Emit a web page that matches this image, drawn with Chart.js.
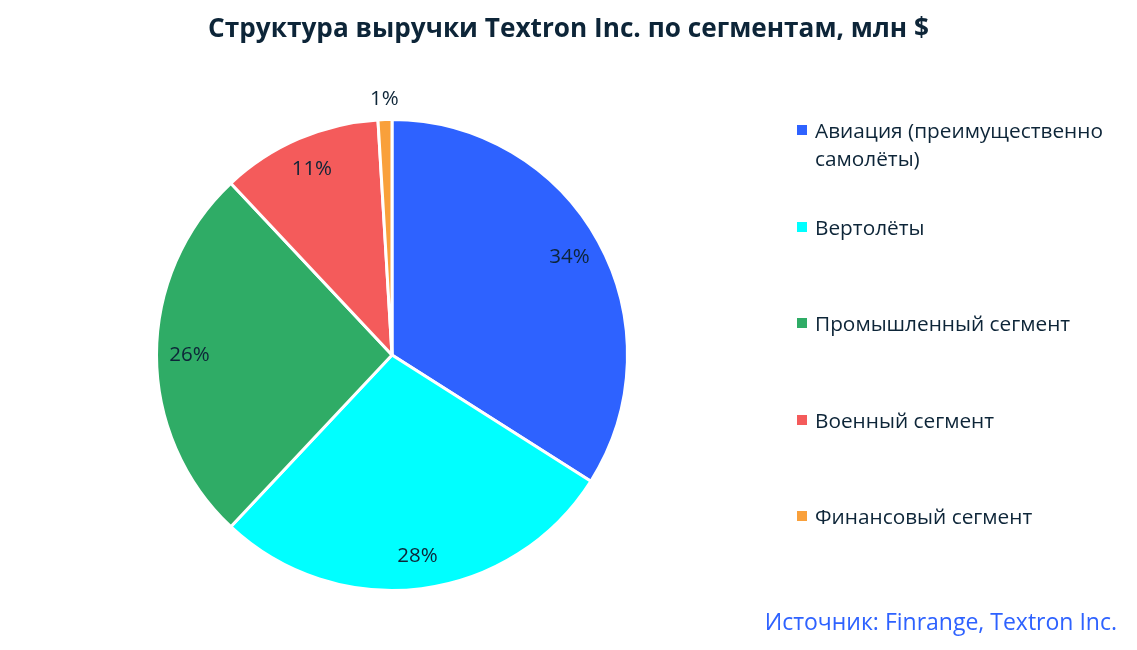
<!DOCTYPE html>
<html>
<head>
<meta charset="utf-8">
<script src="https://cdn.jsdelivr.net/npm/chart.js@4.4.1/dist/chart.umd.min.js"></script>
<style>
  html, body { margin: 0; padding: 0; background: #fff; }
  body { width: 1137px; height: 650px; position: relative; overflow: hidden; font-family: "Open Sans", sans-serif; color: #0d2538; }
  #title { position: absolute; left: 0; width: 1137px; top: 9px; text-align: center; font-size: 26.2px; font-weight: 700; }
  #chart-wrap { position: absolute; left: 0; top: 0; width: 1137px; height: 650px; }
  .legend-item { position: absolute; left: 797px; width: 330px; font-size: 20.8px; line-height: 28px; padding-left: 18px; box-sizing: border-box; }
  .legend-item .swatch { position: absolute; left: 0; top: 9px; width: 10px; height: 10px; }
  #source { position: absolute; right: 20px; top: 605px; font-size: 23px; color: #2e62ff; }
</style>
</head>
<body>
<div id="chart-wrap"><canvas id="pie-chart" width="1137" height="650"></canvas></div>
<div id="title">Структура выручки Textron Inc. по сегментам, млн $</div>
<div id="legend"></div>
<div id="source">Источник: Finrange, Textron Inc.</div>
<script>
const segments = ['Авиация (преимущественно самолёты)', 'Вертолёты', 'Промышленный сегмент', 'Военный сегмент', 'Финансовый сегмент'];
const shares = [34, 28, 26, 11.05, 0.95];
const colors = ['#2e62ff', '#00ffff', '#2fac66', '#f45b5b', '#f9a03b'];

// legend on the right
const legend = document.getElementById('legend');
segments.forEach((name, i) => {
  const item = document.createElement('div');
  item.className = 'legend-item';
  item.style.top = Math.round(116 + i * 96.6) + 'px';
  item.innerHTML = `<span class="swatch" style="background:${colors[i]}"></span>${name}`;
  legend.appendChild(item);
});

// percent labels inside slices, small ones outside
const pctLabels = {
  id: 'pctLabels',
  afterDatasetsDraw(chart) {
    const { ctx } = chart;
    const meta = chart.getDatasetMeta(0);
    const total = shares.reduce((a, b) => a + b, 0);
    ctx.save();
    ctx.font = '20.5px "Open Sans"';
    ctx.fillStyle = '#0d2538';
    ctx.textAlign = 'center';
    ctx.textBaseline = 'middle';
    meta.data.forEach((arc, i) => {
      const pct = shares[i] / total * 100;
      const mid = (arc.startAngle + arc.endAngle) / 2;
      const r = pct < 3 ? arc.outerRadius + 20 : arc.outerRadius * 0.86;
      ctx.fillText(Math.round(pct) + '%', arc.x + Math.cos(mid) * r, arc.y + Math.sin(mid) * r);
    });
    ctx.restore();
  }
};

const canvas = document.getElementById('pie-chart');
new Chart(canvas, {
  type: 'pie',
  data: {
    labels: segments,
    datasets: [{
      data: shares,
      backgroundColor: colors,
      borderColor: '#ffffff',
      borderWidth: 3,
    }],
  },
  options: {
    responsive: false,
    animation: false,
    layout: { padding: { left: 154, right: 507, top: 118, bottom: 58 } },
    plugins: {
      legend: { display: false },
      tooltip: { enabled: false },
    },
  },
  plugins: [pctLabels],
});
</script>
</body>
</html>
